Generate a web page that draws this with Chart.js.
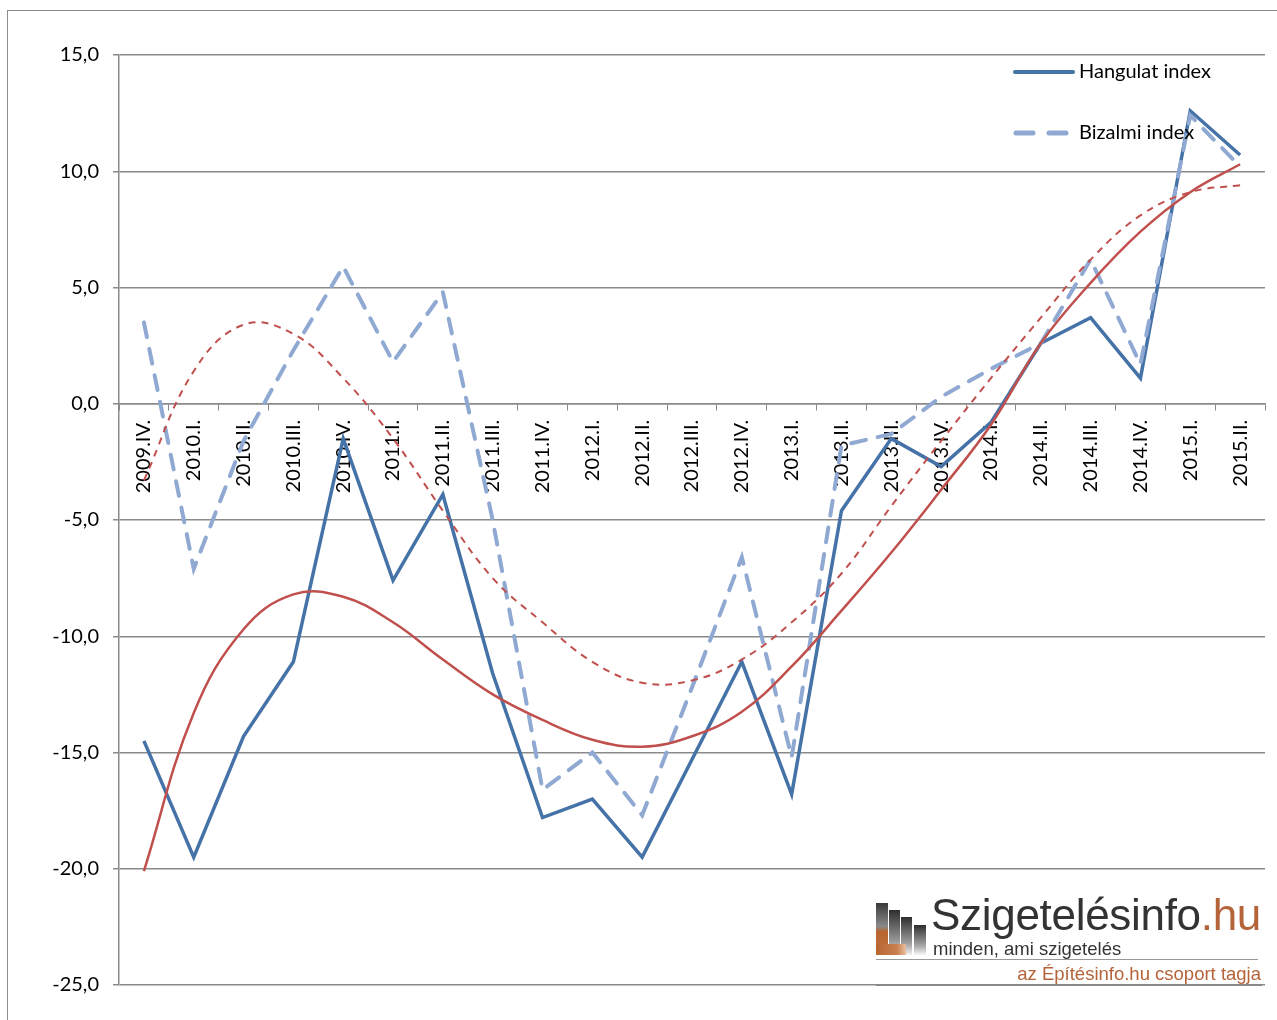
<!DOCTYPE html>
<html>
<head>
<meta charset="utf-8">
<script src="https://cdn.jsdelivr.net/npm/chart.js@4.4.1/dist/chart.umd.min.js"></script>
<style>
  body{margin:0;background:#fff;}
  #wrap{position:relative;width:1277px;height:1020px;overflow:hidden;}
  #frame{position:absolute;left:7px;top:10px;width:1300px;height:1050px;border:1.5px solid #8c8c8c;}
  #c{position:absolute;left:0;top:0;}
  #logo{position:absolute;left:876px;top:895px;width:390px;height:89px;background:#fff;font-family:"Liberation Sans",Arial,sans-serif;}
  .bar{position:absolute;bottom:29px;}
</style>
</head>
<body>
<div id="wrap">
  <div id="frame"></div>
  <canvas id="c" width="1277" height="1020"></canvas>
  <div id="logo">
    <div class="bar" style="left:0;width:12px;height:52px;background:linear-gradient(#3a3a3a,#8a8a8a 45%,#b8652f 55%,#c07040);"></div>
    <div class="bar" style="left:13px;width:11px;height:45px;background:linear-gradient(#2e2e2e,#9a9a9a 70%,#f0f0f0);"></div>
    <div class="bar" style="left:25px;width:11px;height:38px;background:linear-gradient(#2e2e2e,#a0a0a0 70%,#f4f4f4);"></div>
    <div class="bar" style="left:38px;width:12px;height:30px;background:linear-gradient(#2e2e2e,#a8a8a8 70%,#f8f8f8);"></div>
    <div class="bar" style="left:0;width:30px;height:11px;background:linear-gradient(90deg,#b8652f,#c98050 70%,#e8c0a0);"></div>
    <div style="position:absolute;left:55px;top:-4px;font-size:44px;color:#333;letter-spacing:-0.3px;line-height:48px;">Szigetelésinfo<span style="color:#b5643a">.hu</span></div>
    <div style="position:absolute;left:57px;top:44px;font-size:18.5px;color:#333;line-height:20px;">minden, ami szigetelés</div>
    <div style="position:absolute;left:0;top:64px;width:382px;height:1px;background:#999;"></div>
    <div style="position:absolute;right:5px;top:69px;font-size:18.5px;color:#b5643a;line-height:20px;">az Építésinfo.hu csoport tagja</div>
    <div style="position:absolute;left:0;top:89px;width:386px;height:1.5px;background:#888;"></div>
  </div>
</div>
<script>
const labels = ['2009.IV.','2010.I.','2010.II.','2010.III.','2010.IV.','2011.I.','2011.II.','2011.III.','2011.IV.','2012.I.','2012.II.','2012.III.','2012.IV.','2013.I.','2013.II.','2013.III.','2013.IV.','2014.I.','2014.II.','2014.III.','2014.IV.','2015.I.','2015.II.'];
const hangulat = [-14.5,-19.5,-14.3,-11.1,-1.5,-7.6,-3.9,-11.6,-17.8,-17.0,-19.5,-15.3,-11.1,-16.8,-4.6,-1.5,-2.7,-0.8,2.6,3.7,1.1,12.6,10.7];
const bizalmi = [3.5,-7.1,-1.6,2.3,5.9,1.8,4.8,-5.0,-16.6,-15.0,-17.7,-12.2,-6.6,-15.2,-1.8,-1.3,0.3,1.5,2.6,6.2,1.7,12.4,10.2];
// trendlines
const hangulatTrend = [-20.1,-13.3,-9.7,-8.2,-8.3,-9.4,-11.0,-12.5,-13.6,-14.45,-14.75,-14.3,-13.25,-11.3,-8.9,-6.4,-3.7,-0.9,2.6,5.2,7.4,9.1,10.3];
const bizalmiTrend = [-3.3,1.4,3.4,3.0,1.1,-1.5,-4.6,-7.5,-9.4,-11.1,-12.0,-11.9,-11.0,-9.4,-7.3,-4.4,-1.6,1.1,3.7,6.2,8.1,9.1,9.4];
const yTicks = {min:-25, max:15, step:5};

const FONT = 'Lato, "Open Sans", sans-serif';
const FS = 20;
const C_H = '#4572a7', C_B = '#8fa9d2', C_R = '#c0504d';

const legendPlugin = {
  id:'customLegend',
  afterDraw(chart){
    const ctx = chart.ctx;
    ctx.save();
    ctx.font = FS + 'px ' + FONT;
    ctx.fillStyle = '#000';
    ctx.textBaseline = 'middle';
    ctx.lineCap = 'round';
    ctx.strokeStyle = C_H; ctx.lineWidth = 4;
    ctx.beginPath(); ctx.moveTo(1015,72); ctx.lineTo(1073,72); ctx.stroke();
    ctx.fillText('Hangulat index', 1079, 72);
    ctx.strokeStyle = C_B; ctx.lineWidth = 5; ctx.lineCap = 'round';
    ctx.setLineDash([17,16]);
    ctx.beginPath(); ctx.moveTo(1016,133); ctx.lineTo(1068,133); ctx.stroke();
    ctx.setLineDash([]);
    ctx.fillText('Bizalmi index', 1079, 133);
    ctx.restore();
  }
};

new Chart(document.getElementById('c'), {
  type:'line',
  data:{
    labels:labels,
    datasets:[
      {label:'Hangulat index', data:hangulat, borderColor:C_H, borderWidth:3.5, pointRadius:0, tension:0, order:4, borderJoinStyle:'miter'},
      {label:'Bizalmi index', data:bizalmi, borderColor:C_B, borderWidth:4, borderDash:[15,12], borderCapStyle:'round', pointRadius:0, tension:0, order:3},
      {label:'trend1', data:hangulatTrend, borderColor:C_R, borderWidth:2.5, pointRadius:0, tension:0.4, order:2},
      {label:'trend2', data:bizalmiTrend, borderColor:C_R, borderWidth:2, borderDash:[7,6], pointRadius:0, tension:0.4, order:1}
    ]
  },
  options:{
    responsive:false,
    devicePixelRatio:1,
    animation:false,
    layout:{padding:{top:55,right:12,bottom:35,left:0}},
    plugins:{legend:{display:false},tooltip:{enabled:false}},
    scales:{
      x:{
        position:{y:0},
        offset:true,
        grid:{drawOnChartArea:false, drawTicks:true, tickLength:6, offset:true, color:'#8a8a8a'},
        border:{display:true, color:'#8a8a8a', width:1.5},
        ticks:{autoSkip:false, minRotation:90, maxRotation:90, padding:10, color:'#000', font:{family:FONT, size:FS}}
      },
      y:{
        min:yTicks.min, max:yTicks.max,
        afterFit(s){ s.width = 119; },
        grid:{color:'#8a8a8a', lineWidth:1.5, tickLength:6},
        border:{display:true, color:'#8a8a8a', width:1.5},
        ticks:{stepSize:yTicks.step, padding:14, color:'#000', font:{family:FONT, size:FS},
          callback:v=>v.toFixed(1).replace('.',',')}
      }
    }
  },
  plugins:[legendPlugin]
});
</script>
</body>
</html>
